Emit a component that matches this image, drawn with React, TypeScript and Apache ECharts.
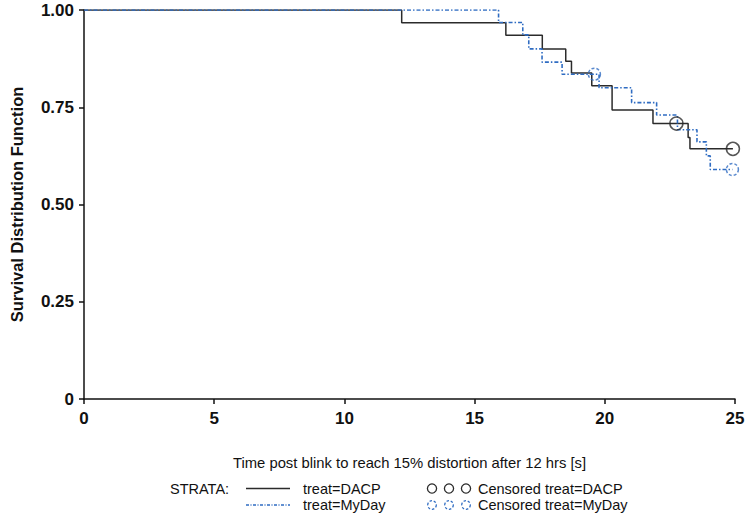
import React, { useEffect, useRef } from "react";
import * as echarts from "echarts";

const dacpTimes = [0, 12.2, 16.2, 17.6, 18.5, 18.72, 19.5, 20.28, 21.85, 23.2, 23.27, 24.92];
const dacpSurv = [1, 0.967, 0.935, 0.9, 0.868, 0.838, 0.805, 0.743, 0.708, 0.672, 0.643, 0.643];
const dacpCensorTimes = [22.75, 24.92];
const dacpCensorSurv = [0.708, 0.643];

const mydayTimes = [0, 15.92, 16.85, 17.08, 17.59, 18.36, 19.78, 21.03, 21.99, 22.79, 23.54, 23.9, 24.05, 24.9];
const mydaySurv = [1, 0.968, 0.936, 0.9, 0.866, 0.835, 0.8, 0.762, 0.73, 0.692, 0.661, 0.625, 0.59, 0.59];
const mydayCensorTimes = [19.6, 24.9];
const mydayCensorSurv = [0.835, 0.59];

const yTicks = ["0", "0.25", "0.50", "0.75", "1.00"];
const xTicks = ["0", "5", "10", "15", "20", "25"];

const FONT = "Liberation Sans, Arial, Helvetica, sans-serif";
const BLUE = "#2f6cc2";
const BLACK = "#2b2b2b";

export default function App() {
  const ref = useRef<HTMLDivElement>(null);
  useEffect(() => {
    if (!ref.current) return;
    const chart = echarts.init(ref.current, null, { renderer: "svg" });
    const zip = (a: number[], b: number[]) => a.map((v, i) => [v, b[i]]);
    const row1 = 488.5;
    const row2 = 505;
    const legendText = (x: number, y: number, text: string) => ({
      type: "text",
      x,
      y,
      style: {
        text,
        fontSize: 14.5,
        lineHeight: 14,
        fill: "#111",
        fontFamily: FONT,
        verticalAlign: "middle",
        align: "left",
      },
    });
    const option: any = {
      animation: false,
      backgroundColor: "#ffffff",
      textStyle: { fontFamily: FONT },
      grid: { left: 81, right: 15, top: 10, bottom: 114 },
      xAxis: {
        type: "value",
        min: 0,
        max: 25,
        interval: 5,
        name: "Time post blink to reach 15% distortion after 12 hrs [s]",
        nameLocation: "middle",
        nameGap: 56,
        nameTextStyle: { fontSize: 14.8, color: "#111", fontFamily: FONT },
        axisLine: { show: true, lineStyle: { color: "#111", width: 1.5 } },
        axisTick: { show: true, length: 5, lineStyle: { color: "#111", width: 1.5 } },
        axisLabel: {
          fontSize: 17,
          fontWeight: "bold",
          color: "#111",
          margin: 11,
          fontFamily: FONT,
          formatter: (v: number) => xTicks[Math.round(v / 5)] ?? String(v),
        },
        splitLine: { show: false },
      },
      yAxis: {
        type: "value",
        min: 0,
        max: 1,
        interval: 0.25,
        name: "Survival Distribution Function",
        nameLocation: "middle",
        nameGap: 59,
        nameTextStyle: { fontSize: 16.5, fontWeight: "bold", color: "#111", fontFamily: FONT },
        axisLine: { show: true, lineStyle: { color: "#111", width: 1.5 } },
        axisTick: { show: true, length: 5, lineStyle: { color: "#111", width: 1.5 } },
        axisLabel: {
          fontSize: 17,
          fontWeight: "bold",
          color: "#111",
          margin: 10,
          fontFamily: FONT,
          formatter: (v: number) => yTicks[Math.round(v / 0.25)] ?? String(v),
        },
        splitLine: { show: false },
      },
      series: [
        {
          name: "treat=DACP",
          type: "line",
          step: "end",
          data: zip(dacpTimes, dacpSurv),
          showSymbol: false,
          symbol: "none",
          lineStyle: { color: BLACK, width: 1.5 },
          z: 2,
        },
        {
          name: "treat=MyDay",
          type: "line",
          step: "end",
          data: zip(mydayTimes, mydaySurv),
          showSymbol: false,
          symbol: "none",
          lineStyle: { color: BLUE, width: 1.6, type: [4, 2, 1.5, 2] },
          z: 3,
        },
        {
          name: "Censored treat=DACP",
          type: "scatter",
          data: zip(dacpCensorTimes, dacpCensorSurv),
          symbol: "circle",
          symbolSize: 13,
          itemStyle: { color: "rgba(255,255,255,0)", borderColor: BLACK, borderWidth: 1.5 },
          z: 4,
        },
        {
          name: "Censored treat=MyDay",
          type: "scatter",
          data: zip(mydayCensorTimes, mydayCensorSurv),
          symbol: "circle",
          symbolSize: 12,
          itemStyle: {
            color: "rgba(255,255,255,0)",
            borderColor: BLUE,
            borderWidth: 1.5,
            borderType: [3, 2],
          },
          z: 4,
        },
      ],
      graphic: [
        legendText(170, row1, "STRATA:"),
        {
          type: "line",
          shape: { x1: 246, y1: row1, x2: 290, y2: row1 },
          style: { stroke: BLACK, lineWidth: 1.5 },
        },
        legendText(303, row1, "treat=DACP"),
        {
          type: "line",
          shape: { x1: 246, y1: row2, x2: 290, y2: row2 },
          style: { stroke: BLUE, lineWidth: 1.5, lineDash: [3, 1.5, 1, 1.5] },
        },
        legendText(303, row2, "treat=MyDay"),
        ...[432, 449, 466].map((cx) => ({
          type: "circle",
          shape: { cx, cy: row1, r: 4.6 },
          style: { fill: "none", stroke: BLACK, lineWidth: 1.3 },
        })),
        ...[432, 449, 466].map((cx) => ({
          type: "circle",
          shape: { cx, cy: row2, r: 4.3 },
          style: { fill: "none", stroke: BLUE, lineWidth: 1.3, lineDash: [2.5, 1.8] },
        })),
        legendText(478, row1, "Censored treat=DACP"),
        legendText(478, row2, "Censored treat=MyDay"),
      ],
    };
    chart.setOption(option);
    return () => chart.dispose();
  }, []);
  return (
    <div
      ref={ref}
      style={{ position: "fixed", left: 0, top: 0, width: 750, height: 513 }}
    />
  );
}
